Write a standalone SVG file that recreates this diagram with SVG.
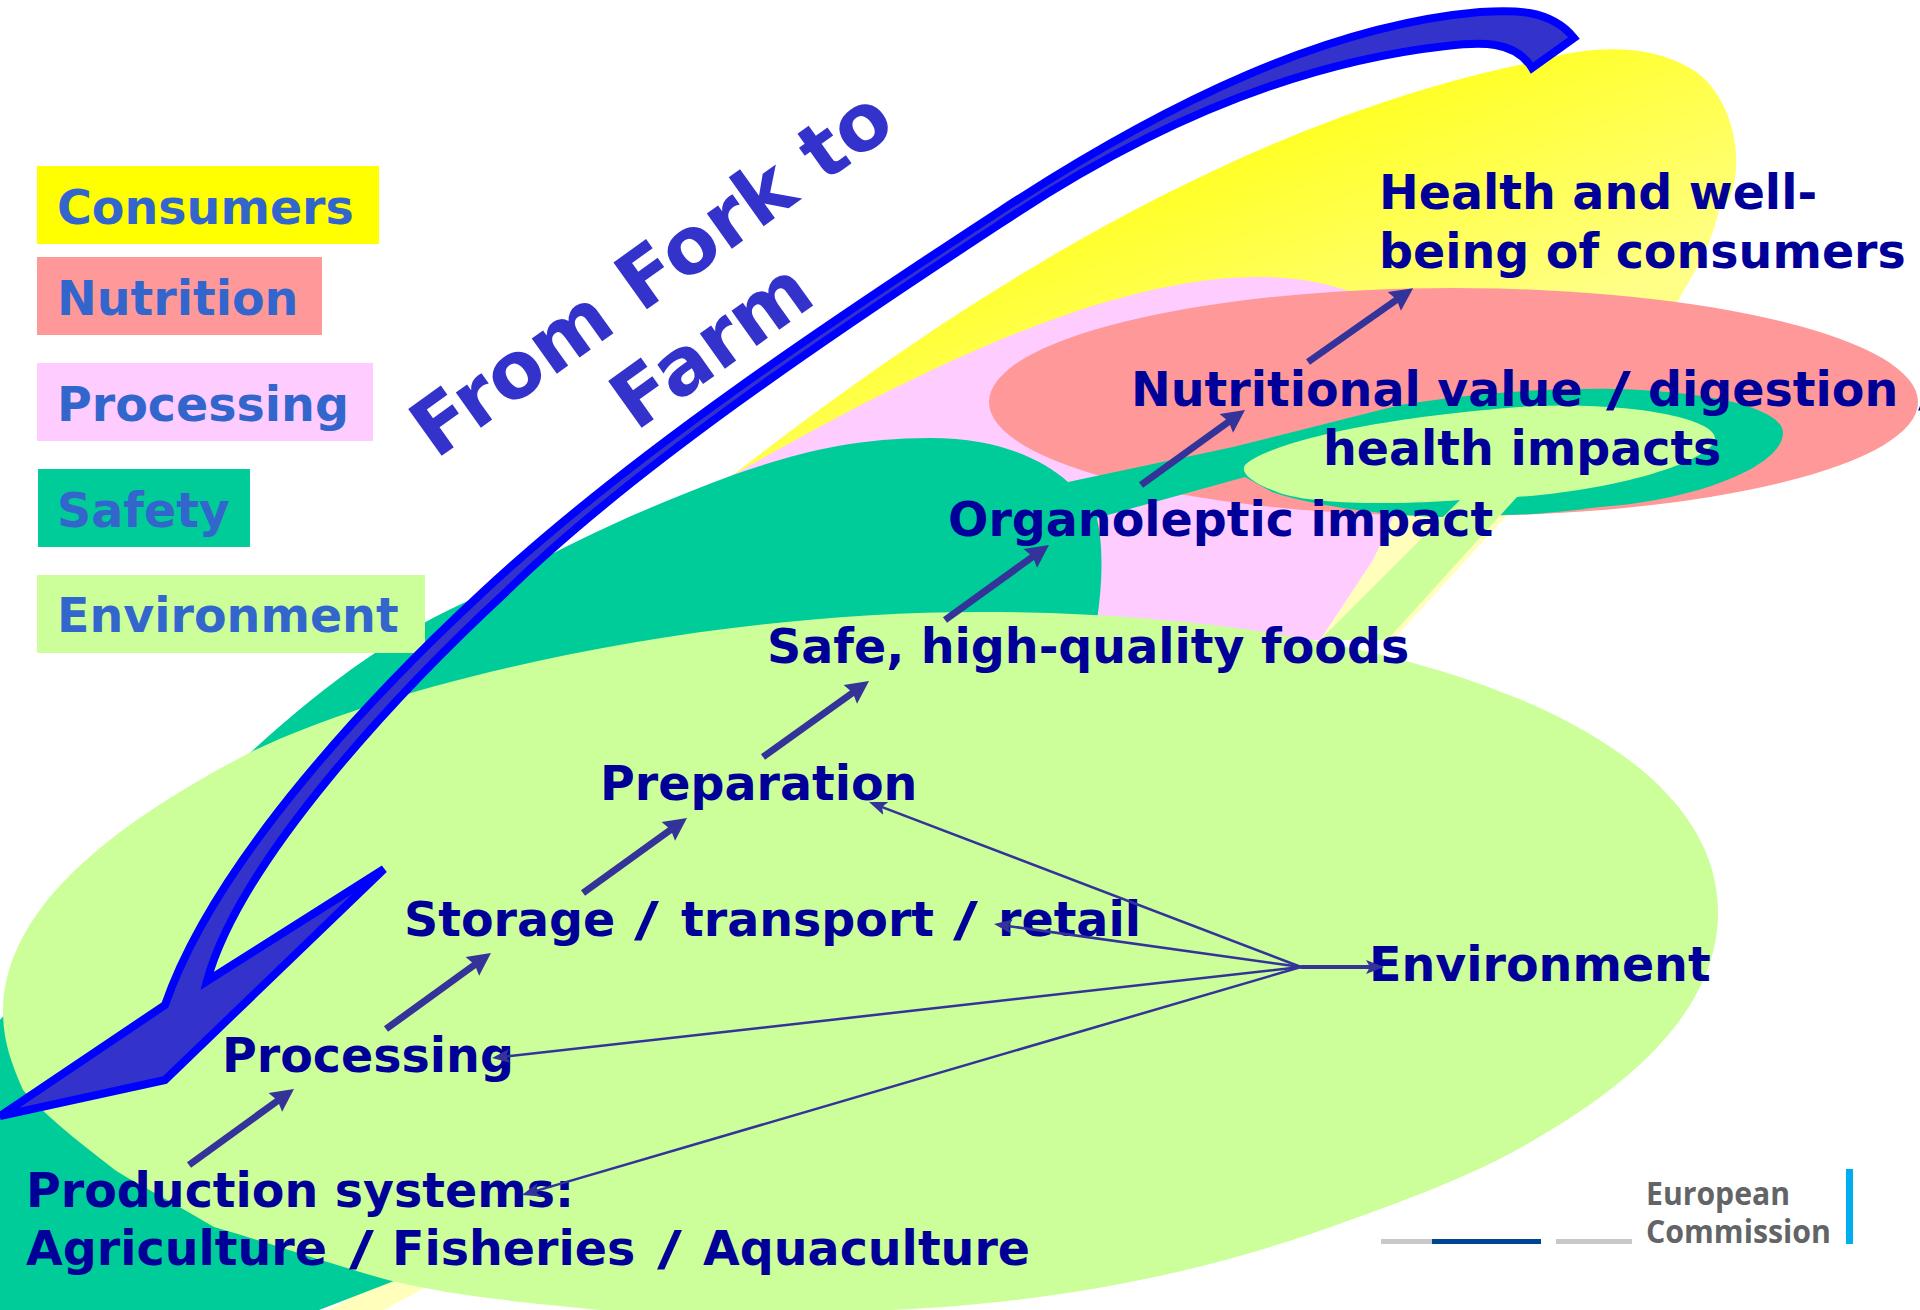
<svg xmlns="http://www.w3.org/2000/svg" width="1920" height="1310" viewBox="0 0 1920 1310">
<style>
text{font-family:"DejaVu Sans","Liberation Sans",sans-serif;font-weight:bold}
.m{font-size:47.5px;fill:#000099}
.l{font-size:47.5px;fill:#3366CC}
.t{font-size:79px;fill:#3333CC;text-anchor:middle}
.ec{font-family:"Open Sans","Liberation Sans",sans-serif;font-size:32px;fill:#636466}
.thick{fill:none;stroke:#333399;stroke-width:7;marker-end:url(#h)}
.thin{fill:none;stroke:#333399;stroke-width:2.5;marker-end:url(#s)}
</style>
<defs>
<linearGradient id="y" gradientUnits="userSpaceOnUse" x1="1300" y1="120" x2="1400" y2="380"><stop offset="0" stop-color="#FFFF22"/><stop offset="1" stop-color="#FFFF88"/></linearGradient>
<marker id="h" markerUnits="userSpaceOnUse" markerWidth="30" markerHeight="30" refX="12" refY="15" orient="auto" viewBox="0 0 30 30"><path d="M7,3.5 L30,15 L7,26.5 L10,15 Z" fill="#333399"/></marker>
<marker id="s" markerUnits="userSpaceOnUse" markerWidth="18" markerHeight="16" refX="6" refY="8" orient="auto" viewBox="0 0 18 16"><path d="M0,1 L18,8 L0,15 L4,8 Z" fill="#333399"/></marker>
</defs>
<rect width="1920" height="1310" fill="#FFFFFF"/>
<g id="background-shapes">
<path id="cream" fill="#FFFFBB" d="M1320,640 L1373,560 L1393,518 L1440,500 L1510,512 L1393,640 Z M325,1312 L388,1278 L430,1285 L380,1312 Z"/>
<path id="yellow" fill="url(#y)" d="M733,475 C900,345 1200,130 1528,63 C1580,48 1640,40 1690,68 C1742,98 1748,190 1719,210 C1710,250 1695,270 1678,301 L1420,400 L1000,640 Z"/>
<path id="pink" fill="#FFCCFF" d="M733,475 C900,380 1100,277 1258,277 C1320,277 1352,290 1420,320 L1430,480 L1393,518 L1373,560 L1320,640 L1000,640 Z"/>
<ellipse id="salmon" cx="1453.5" cy="402" rx="464.5" ry="114" fill="#FF9999"/>
<path id="deep-green" fill="#00CC99" d="M-5,1025 L251,752 C330,680 400,630 477,597 C560,545 640,510 733,475 C790,455 850,438 930,438 C1000,438 1043,460 1068,482 L1233,447 L1400,405 C1480,392 1550,388 1616,389 C1720,392 1783,410 1783,433 C1783,465 1700,500 1600,507 C1560,512 1530,515 1500,515 L1440,517 C1380,515 1310,505 1272,492 L1245,477 L1097,518 C1103,545 1103,580 1097,620 L1000,900 L500,1240 L314,1312 L-5,1312 Z"/>
<path id="light-green" fill="#CCFF99" d="M3,1010 C5,900 130,815 251,752 C400,680 700,612 980,612 C1400,612 1718,730 1718,912 C1718,1010 1630,1085 1534,1140 C1480,1172 1420,1195 1350,1220 C1220,1268 1050,1312 800,1312 L600,1310 C500,1300 450,1295 388,1280 C310,1258 260,1240 214,1227 C160,1195 130,1180 115,1170 C70,1135 45,1115 23,1090 C10,1060 3,1040 3,1010 Z"/>
<path id="light-green-tail" fill="#CCFF99" d="M1320,640 L1460,500 C1400,505 1310,505 1277,492 C1250,482 1240,472 1245,465 C1260,450 1340,420 1533,406 C1640,402 1715,420 1715,438 C1715,460 1620,490 1517,497 L1387,640 Z"/>
</g>
<g id="legend">
<g id="legend-consumers"><rect x="37" y="166" width="342" height="78" fill="#FFFF00"/><text class="l" x="57" y="224">Consumers</text></g>
<g id="legend-nutrition"><rect x="37" y="257" width="285" height="78" fill="#FF9999"/><text class="l" x="57" y="315">Nutrition</text></g>
<g id="legend-processing"><rect x="37" y="363" width="336" height="78" fill="#FFCCFF"/><text class="l" x="57" y="421">Processing</text></g>
<g id="legend-safety"><rect x="38" y="469" width="212" height="78" fill="#00CC99"/><text class="l" x="57" y="527">Safety</text></g>
<g id="legend-environment"><rect x="37" y="575" width="388" height="78" fill="#CCFF99"/><text class="l" x="57" y="632">Environment</text></g>
</g>
<g id="big-arrow"><path fill="#3333CC" stroke="#0000FF" stroke-width="8" stroke-miterlimit="4" d="M1574,38 C1550,8 1510,10 1480,12 C1330,25 1170,100 1000,211 C830,322 630,455 483,592 C375,692 215,860 165,1005 L0,1116 L165,1080 L384,869 L207,981 C240,860 400,690 506,592 C630,470 830,335 1000,224 C1170,110 1320,60 1446,46 C1480,42 1515,40 1532,68 Z"/></g>
<g id="title"><text class="t" transform="translate(667,295) rotate(-35.5)">From Fork to</text><text class="t" transform="translate(727,367) rotate(-35.5)">Farm</text></g>
<g id="labels">
<g id="n-health"><text class="m" x="1379" y="209">Health and well-</text><text class="m" x="1379" y="268">being of consumers</text></g>
<g id="n-nutritional"><text class="m" x="1131" y="406">Nutritional value <tspan x="1606" textLength="25" lengthAdjust="spacingAndGlyphs">/</tspan> <tspan x="1648">digestion</tspan> <tspan x="1918" textLength="25" lengthAdjust="spacingAndGlyphs">/</tspan></text><text class="m" x="1323" y="465">health impacts</text></g>
<g id="n-organoleptic"><text class="m" x="948" y="536">Organoleptic impact</text></g>
<g id="n-safe"><text class="m" x="767" y="663">Safe, high-quality foods</text></g>
<g id="n-preparation"><text class="m" x="600" y="800">Preparation</text></g>
<g id="n-storage"><text class="m" x="404" y="936">Storage <tspan x="634" textLength="25" lengthAdjust="spacingAndGlyphs">/</tspan> <tspan x="681">transport</tspan> <tspan x="953" textLength="25" lengthAdjust="spacingAndGlyphs">/</tspan> <tspan x="998">retail</tspan></text></g>
<g id="n-environment"><text class="m" x="1369" y="981">Environment</text></g>
<g id="n-processing"><text class="m" x="222" y="1072">Processing</text></g>
<g id="n-production"><text class="m" x="26" y="1207">Production systems:</text><text class="m" x="26" y="1265">Agriculture <tspan x="349" textLength="25" lengthAdjust="spacingAndGlyphs">/</tspan> <tspan x="392">Fisheries</tspan> <tspan x="657" textLength="25" lengthAdjust="spacingAndGlyphs">/</tspan> <tspan x="703">Aquaculture</tspan></text></g>
</g>
<g id="connectors">
<line class="thick" x1="189" y1="1165" x2="279.4" y2="1099.5"/>
<line class="thick" x1="386" y1="1029" x2="476.4" y2="963.5"/>
<line class="thick" x1="583" y1="893" x2="672.4" y2="828.5"/>
<line class="thick" x1="763" y1="757" x2="854.4" y2="691.5"/>
<line class="thick" x1="945" y1="620" x2="1034.4" y2="555.5"/>
<line class="thick" x1="1141" y1="485" x2="1230.4" y2="420.5"/>
<line class="thick" x1="1308" y1="362" x2="1398.4" y2="298.5"/>
<line class="thin" x1="1301" y1="967" x2="880.2" y2="806.3"/>
<line class="thin" x1="1301" y1="967" x2="1005.9" y2="925.7"/>
<line class="thin" x1="1301" y1="967" x2="503.9" y2="1056.7"/>
<line class="thin" x1="1301" y1="967" x2="533.5" y2="1191.6"/>
<line class="thin" x1="1301" y1="967" x2="1372" y2="967" style="stroke-width:4"/>
</g>
<g id="logo">
<rect x="1381" y="1239" width="51" height="5" fill="#C8C8C8"/><rect x="1432" y="1239" width="109" height="5" fill="#004494"/><rect x="1556" y="1239" width="76" height="5" fill="#C8C8C8"/>
<text class="ec" x="1646" y="1205" textLength="144" lengthAdjust="spacingAndGlyphs">European</text>
<text class="ec" x="1646" y="1243" textLength="185" lengthAdjust="spacingAndGlyphs">Commission</text>
<rect x="1846" y="1169" width="7" height="75" fill="#00AEEF"/>
</g>
</svg>
